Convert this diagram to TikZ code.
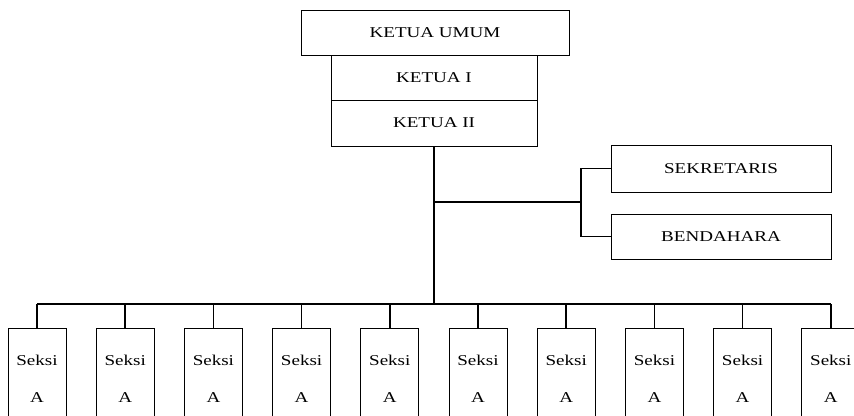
\documentclass[tikz,border=0pt]{standalone}
\usepackage{fontspec}
\setmainfont{Liberation Serif}[FakeStretch=1.27]
\begin{document}
\begin{tikzpicture}[x=1pt,y=-1pt,
    box/.style={draw,line width=0.8,inner sep=0,font=\fontsize{15}{18}\selectfont},
    seksibox/.style={box,minimum width=58,minimum height=101,align=center,font=\fontsize{15}{37}\selectfont},
    link/.style={line width=1.5}]
    \clip (0,0) rectangle (854,415);
    % top boxes
    \node [box,minimum width=268,minimum height=45] (umum) at (435,32.5) {KETUA UMUM};
    \node [box,minimum width=206,minimum height=45] (ketua1) at (434,77.5) {KETUA I};
    \node [box,minimum width=206,minimum height=46] (ketua2) at (434,123) {KETUA II};
    % right boxes
    \node [box,minimum width=220,minimum height=47] (sekretaris) at (721,168.5) {SEKRETARIS};
    \node [box,minimum width=220,minimum height=45] (bendahara) at (721,236.5) {BENDAHARA};
    % trunk line
    \coordinate (bus) at (434,304);
    \coordinate (fork) at (434,202);
    \coordinate (split) at (581,202);
    \draw [link] (ketua2.south) -- (bus);
    % branch to the right
    \draw [link] (fork) -- (split);
    \draw [link] (sekretaris.west) -| (split) |- (bendahara.west);
    % seksi row
    \foreach \i in {0,...,9} {
        \node [seksibox] (seksi\i) at (37+88.2*\i,378.5) {Seksi\\A};
        \draw [link] (seksi\i.north) -- (seksi\i.north|-bus);
    }
    \draw [link] (seksi0.north|-bus) -- (seksi9.north|-bus);
\end{tikzpicture}
\end{document}
